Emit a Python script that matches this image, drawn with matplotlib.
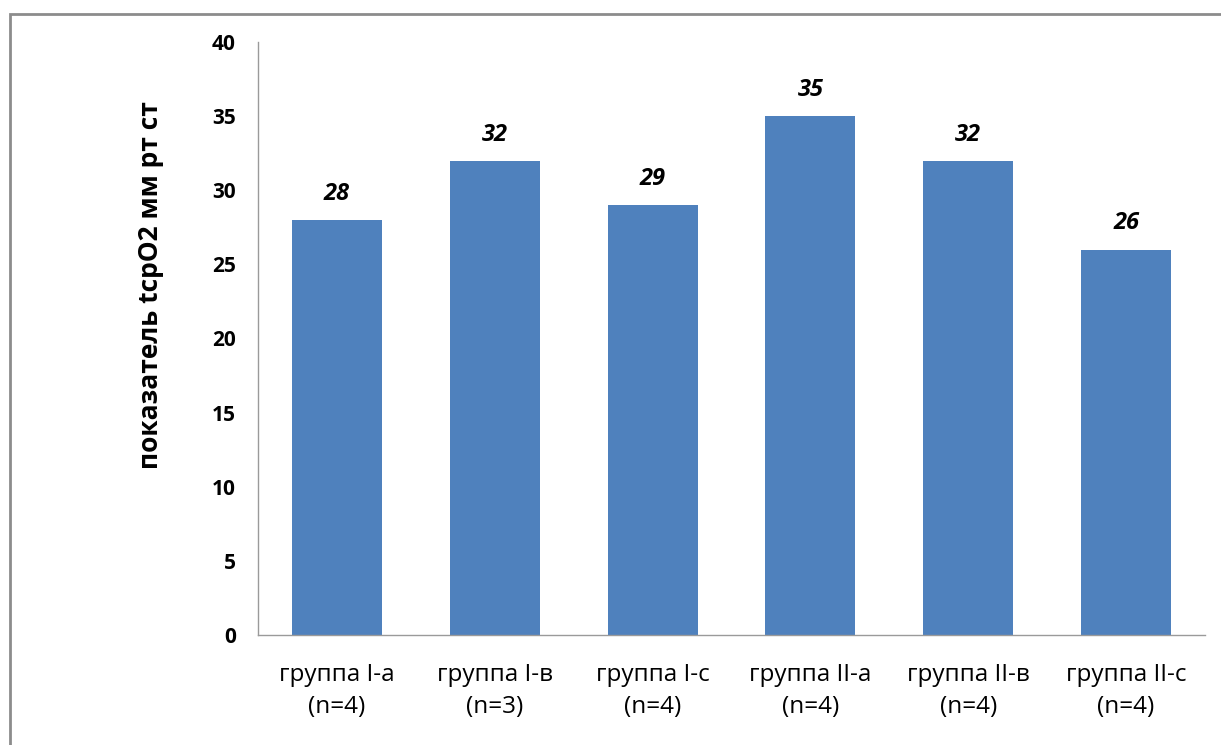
import matplotlib
matplotlib.use("Agg")
import matplotlib.pyplot as plt
from matplotlib.patches import Rectangle

categories = ["группа I-а\n(n=4)", "группа I-в\n(n=3)", "группа I-с\n(n=4)",
              "группа II-а\n(n=4)", "группа II-в\n(n=4)", "группа II-с\n(n=4)"]
values = [28, 32, 29, 35, 32, 26]
y_ticks = [0, 5, 10, 15, 20, 25, 30, 35, 40]
y_label = "показатель tcpO2 мм рт ст"

plt.rcParams['font.family'] = ['Open Sans', 'DejaVu Sans']

W, H = 1221, 745
fig = plt.figure(figsize=(W / 100, H / 100), dpi=100)
ax = fig.add_axes([258 / W, 1 - 635 / H, (1205 - 258) / W, (635 - 42) / H])

x = list(range(len(values)))
bars = ax.bar(x, values, width=0.57, color="#4F81BD", zorder=2)

for xi, v in zip(x, values):
    ax.text(xi, v + 0.95, str(v), ha="center", va="bottom",
            fontsize=17, fontweight="bold", fontstyle="italic", color="black")

ax.set_xlim(-0.5, len(values) - 0.5)
ax.set_ylim(0, 40)
ax.set_yticks(y_ticks)
ax.set_yticklabels([str(t) for t in y_ticks], fontsize=15, fontweight="bold")
ax.set_xticks(x)
ax.set_xticklabels(categories, fontsize=17.5, linespacing=1.45)
ax.tick_params(axis="both", length=0)
ax.tick_params(axis="y", pad=16)
ax.tick_params(axis="x", pad=20)

for side in ("top", "right"):
    ax.spines[side].set_visible(False)
for side in ("left", "bottom"):
    ax.spines[side].set_color("#9a9a9a")
    ax.spines[side].set_linewidth(1.0)

fig.text(150 / W, 1 - 285 / H, y_label, rotation=90, ha="center", va="center",
         fontsize=19, fontweight="bold")

# outer chart frame
fig.patches.append(Rectangle((10 / W, -0.05), 1.2, 1 - 14 / H + 0.05,
                             transform=fig.transFigure, fill=False,
                             edgecolor="#8c8c8c", linewidth=2.0))

fig.savefig("out.png", dpi=100)
